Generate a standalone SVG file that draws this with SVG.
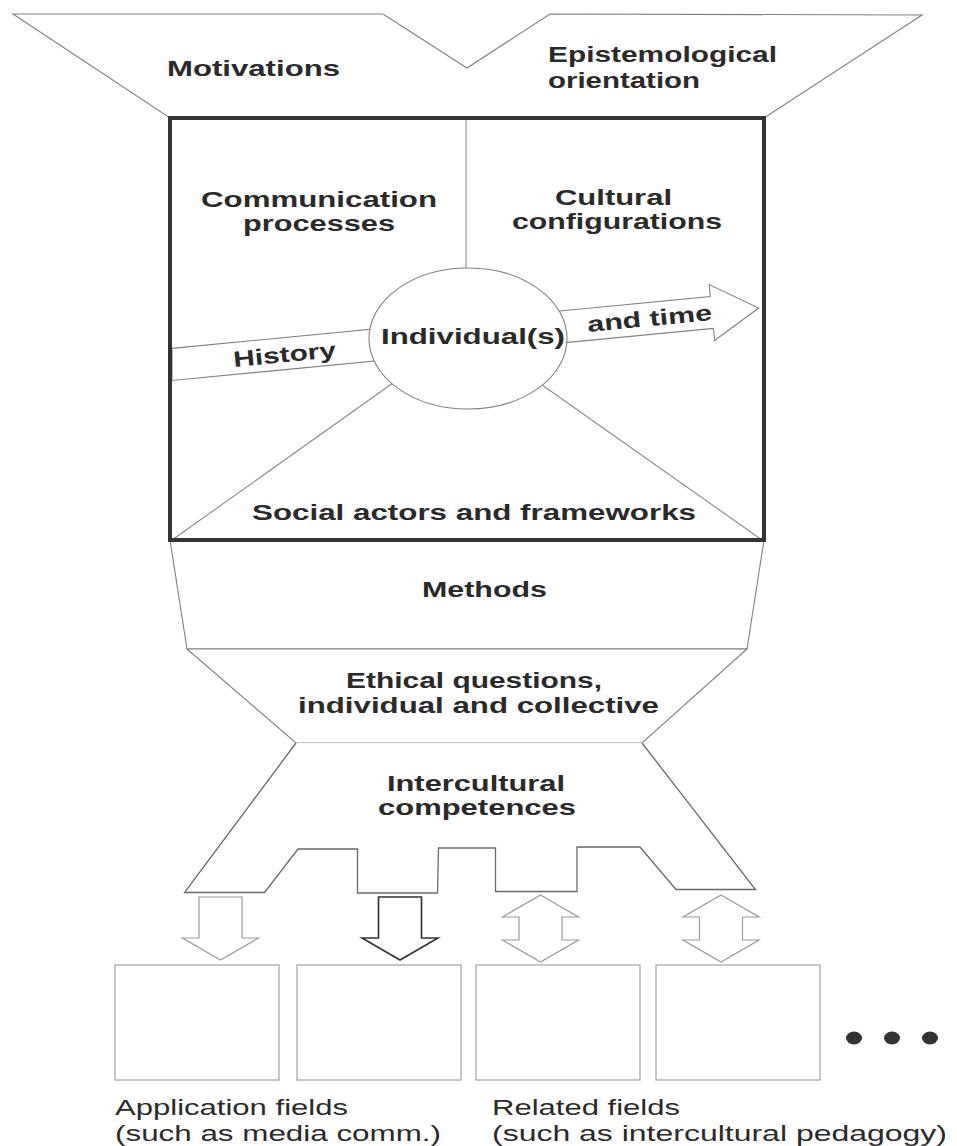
<svg xmlns="http://www.w3.org/2000/svg" width="957" height="1146" viewBox="0 0 957 1146">
<style>
.lbl{font-family:"Liberation Sans",Arial,sans-serif;font-weight:bold;font-size:22px;fill:#2a2a2a}
.reg{font-family:"Liberation Sans",Arial,sans-serif;font-size:22px;fill:#2a2a2a}
.thin{fill:#fff;stroke:#808080;stroke-width:1.1}
.ln{fill:none;stroke:#8a8a8a;stroke-width:1.1}
.lite{fill:#fff;stroke:#9a9a9a;stroke-width:1.2}
.dark{fill:#fff;stroke:#333;stroke-width:1.6}
.step{fill:#fff;stroke:#6a6a6a;stroke-width:1.3}
.field{fill:#fff;stroke:#9a9a9a;stroke-width:1.1}
</style>
<rect width="957" height="1146" fill="#fff"/>
<g id="funnel-top">
<polygon class="thin" points="13,14 383,14 467,68 550,14 922,15 764,118 170,118"/>
<text class="lbl" x="167" y="76" textLength="173" lengthAdjust="spacingAndGlyphs">Motivations</text>
<text class="lbl" x="548" y="62" textLength="229" lengthAdjust="spacingAndGlyphs">Epistemological</text>
<text class="lbl" x="548" y="88" textLength="152" lengthAdjust="spacingAndGlyphs">orientation</text>
</g>
<g id="methods">
<polygon class="thin" points="170,540 764,540 747,649 187,649"/>
<text class="lbl" x="422" y="597" textLength="125" lengthAdjust="spacingAndGlyphs">Methods</text>
</g>
<g id="ethics">
<polygon class="thin" points="187,649 747,649 642,743 296,743"/>
<text class="lbl" x="346" y="688" textLength="256" lengthAdjust="spacingAndGlyphs">Ethical questions,</text>
<text class="lbl" x="298" y="713" textLength="361" lengthAdjust="spacingAndGlyphs">individual and collective</text>
</g>
<g id="competences">
<path class="step" d="M296,743 L184.5,892.5 L264.5,892.5 L298,849 L357.5,849 L357.5,893 L437.5,893 L438.5,848 L495.5,848 L495.5,891.5 L577,891.5 L577,847 L640,847 L676,889.5 L755.5,889.5 L642,743"/>
<text class="lbl" x="387" y="791" textLength="178" lengthAdjust="spacingAndGlyphs">Intercultural</text>
<text class="lbl" x="378" y="815" textLength="198" lengthAdjust="spacingAndGlyphs">competences</text>
</g>
<g id="core">
<rect x="170" y="118" width="594" height="422" fill="#fff"/>
<line class="ln" x1="466" y1="118" x2="466" y2="270"/>
<line class="ln" x1="400" y1="378" x2="172" y2="540"/>
<line class="ln" x1="535" y1="380" x2="762" y2="540"/>
<g id="history-time">
<polygon class="thin" points="172,348.4 710.3,296.6 709.2,284.6 758.7,308 714.6,340.4 713.4,328.4 172,380.5"/>
<text class="lbl" x="233" y="362" textLength="103" lengthAdjust="spacingAndGlyphs" transform="rotate(-5.5 285 355)">History</text>
<text class="lbl" x="587" y="326" textLength="125" lengthAdjust="spacingAndGlyphs" transform="rotate(-5.5 649 318)">and time</text>
</g>
<g id="individual">
<ellipse class="thin" cx="468" cy="338.5" rx="99" ry="70.5"/>
<text class="lbl" x="381" y="344" textLength="184" lengthAdjust="spacingAndGlyphs">Individual(s)</text>
</g>
<g id="communication">
<text class="lbl" x="201" y="207" textLength="236" lengthAdjust="spacingAndGlyphs">Communication</text>
<text class="lbl" x="243" y="231" textLength="152" lengthAdjust="spacingAndGlyphs">processes</text>
</g>
<g id="cultural">
<text class="lbl" x="555" y="205" textLength="117" lengthAdjust="spacingAndGlyphs">Cultural</text>
<text class="lbl" x="512" y="229" textLength="210" lengthAdjust="spacingAndGlyphs">configurations</text>
</g>
<g id="social">
<text class="lbl" x="252" y="520" textLength="444" lengthAdjust="spacingAndGlyphs">Social actors and frameworks</text>
</g>
<rect x="170" y="118" width="594" height="422" fill="none" stroke="#333" stroke-width="4"/>
</g>
<g id="connectors">
<polygon class="lite" points="199,897 242,897 242,938 258.5,938 220.5,960 182.5,938 199,938"/>
<polygon class="dark" points="378.5,897 421.5,897 421.5,938 438,938 400,960 362,938 378.5,938"/>
<polygon class="lite" points="540.5,895 578.5,917 562,917 562,940 578.5,940 540.5,962 502.5,940 519,940 519,917 502.5,917"/>
<polygon class="lite" points="721,895 759,917 742.5,917 742.5,940 759,940 721,962 683,940 699.5,940 699.5,917 683,917"/>
</g>
<g id="field-1"><rect class="field" x="115" y="965" width="164" height="115"/></g>
<g id="field-2"><rect class="field" x="297" y="965" width="164" height="115"/></g>
<g id="field-3"><rect class="field" x="476" y="965" width="164" height="115"/></g>
<g id="field-4"><rect class="field" x="656" y="965" width="164" height="115"/></g>
<g id="more">
<ellipse cx="854" cy="1038" rx="8" ry="6.5" fill="#333"/>
<ellipse cx="892" cy="1038" rx="8" ry="6.5" fill="#333"/>
<ellipse cx="930" cy="1038" rx="8" ry="6.5" fill="#333"/>
</g>
<g id="legend-application">
<text class="reg" x="115" y="1115" textLength="233" lengthAdjust="spacingAndGlyphs">Application fields</text>
<text class="reg" x="115" y="1141" textLength="326" lengthAdjust="spacingAndGlyphs">(such as media comm.)</text>
</g>
<g id="legend-related">
<text class="reg" x="492" y="1115" textLength="188" lengthAdjust="spacingAndGlyphs">Related fields</text>
<text class="reg" x="492" y="1141" textLength="455" lengthAdjust="spacingAndGlyphs">(such as intercultural pedagogy)</text>
</g>
</svg>
